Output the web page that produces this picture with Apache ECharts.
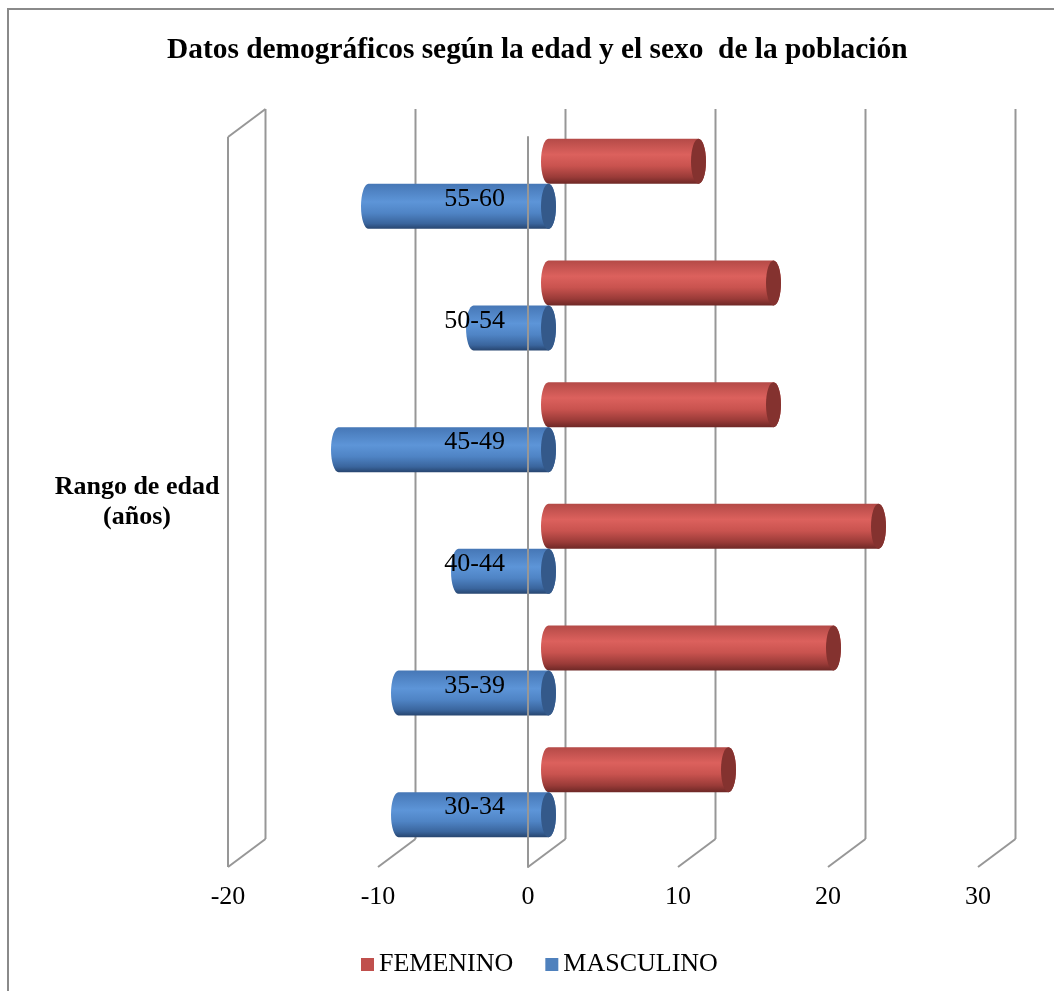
<!DOCTYPE html>
<html>
<head>
<meta charset="utf-8">
<script src="https://cdn.jsdelivr.net/npm/echarts@6/dist/echarts.min.js"></script>
<style>
  html, body { margin: 0; padding: 0; background: #fff; }
  #chart { width: 1054px; height: 991px; }
</style>
</head>
<body>
<div id="chart"></div>
<script>
// Age groups, bottom to top
const ageGroups = ['30-34', '35-39', '40-44', '45-49', '50-54', '55-60'];
// Counts per age group (men drawn to the left as negatives)
const femenino = [12, 19, 22, 15, 15, 10];
const masculino = [-10, -10, -6, -14, -5, -12];
// Value axis ticks
const valueTicks = [-20, -10, 0, 10, 20, 30];
const seriesNames = ['FEMENINO', 'MASCULINO'];
const titleText = 'Datos demográficos según la edad y el sexo  de la población';
const categoryAxisName = 'Rango de edad\n(años)';

const FONT = '"Liberation Serif", "Times New Roman", serif';
const GRID_COLOR = '#979797';
// depth offsets of the pseudo-3D box: back wall and bar plane
const WALL_DX = 37.5, WALL_DY = -28;
const BAR_DX = 20.5, BAR_DY = -14;
const CAP_RX = 7.5;
const CATEGORY_LABEL_GAP = 23;
const CATEGORY_LABEL_SHIFT = 1.5;

const PALETTE = {
  red: {
    base: '#C0504D',
    cap: '#84322f',
    body: [
      [0, '#b44a47'], [0.35, '#dc615d'], [0.6, '#c9534f'], [0.85, '#9a3b38'], [1, '#6e2826']
    ]
  },
  blue: {
    base: '#4F81BD',
    cap: '#34598a',
    body: [
      [0, '#4677b6'], [0.4, '#5d95d8'], [0.65, '#4f84c5'], [0.88, '#3a659d'], [1, '#27456f']
    ]
  }
};

function gradient(stops) {
  return new echarts.graphic.LinearGradient(0, 0, 0, 1,
    stops.map(s => ({ offset: s[0], color: s[1] })));
}

// Horizontal cylinder: rounded far end on the left, visible end cap on the right
function cylinderItem(upper, pal) {
  return function (params, api) {
    const value = api.value(0);
    const idx = api.value(1);
    const p0 = api.coord([0, idx]);
    const p1 = api.coord([value, idx]);
    const band = api.size([0, 1])[1];
    const h = band * 0.37;
    const mid = p0[1] + BAR_DY;
    const top = upper ? mid - h : mid;
    const bottom = top + h;
    const xa = Math.min(p0[0], p1[0]) + BAR_DX;
    const xb = Math.max(p0[0], p1[0]) + BAR_DX;
    const ry = h / 2;
    const cy = top + ry;
    const body = 'M' + xa + ' ' + top + ' L' + xb + ' ' + top +
      ' A' + CAP_RX + ' ' + ry + ' 0 0 1 ' + xb + ' ' + bottom +
      ' L' + xa + ' ' + bottom +
      ' A' + CAP_RX + ' ' + ry + ' 0 0 1 ' + xa + ' ' + top + ' Z';
    const cap = 'M' + (xb - CAP_RX) + ' ' + cy +
      ' A' + CAP_RX + ' ' + ry + ' 0 1 0 ' + (xb + CAP_RX) + ' ' + cy +
      ' A' + CAP_RX + ' ' + ry + ' 0 1 0 ' + (xb - CAP_RX) + ' ' + cy + ' Z';
    return {
      type: 'group',
      children: [
        { type: 'path', shape: { pathData: body }, style: { fill: gradient(pal.body) } },
        { type: 'path', shape: { pathData: cap }, style: { fill: pal.cap } }
      ]
    };
  };
}

// Back wall gridlines, floor edges and left side wall
function wallItem(params, api) {
  const cs = params.coordSys;
  const x = api.coord([api.value(0), 0])[0];
  const top = cs.y, bottom = cs.y + cs.height;
  const lineStyle = { stroke: GRID_COLOR, lineWidth: 2 };
  const children = [
    { type: 'line', shape: { x1: x + WALL_DX, y1: top + WALL_DY, x2: x + WALL_DX, y2: bottom + WALL_DY }, style: lineStyle },
    { type: 'line', shape: { x1: x, y1: bottom, x2: x + WALL_DX, y2: bottom + WALL_DY }, style: lineStyle }
  ];
  if (params.dataIndex === 0) {
    children.push(
      { type: 'line', shape: { x1: x, y1: top, x2: x, y2: bottom }, style: lineStyle },
      { type: 'line', shape: { x1: x, y1: top, x2: x + WALL_DX, y2: top + WALL_DY }, style: lineStyle }
    );
  }
  return { type: 'group', children: children };
}

// Category labels sitting against the zero line, in front of the bars
function categoryLabelItem(params, api) {
  const idx = api.value(1);
  const p = api.coord([api.value(0), idx]);
  return {
    type: 'text',
    x: p[0] - CATEGORY_LABEL_GAP,
    y: p[1] + CATEGORY_LABEL_SHIFT,
    style: {
      text: ageGroups[idx],
      fontFamily: FONT,
      fontSize: 26,
      fill: '#000',
      align: 'right',
      verticalAlign: 'middle'
    }
  };
}

const chart = echarts.init(document.getElementById('chart'), null, { renderer: 'canvas' });

chart.setOption({
  backgroundColor: '#ffffff',
  animation: false,
  title: {
    text: titleText,
    left: 167,
    top: 36,
    padding: 0,
    textStyle: { fontFamily: FONT, fontWeight: 'bold', fontSize: 29.4, color: '#000' }
  },
  legend: {
    data: seriesNames,
    left: 356,
    top: 946,
    icon: 'rect',
    itemWidth: 13,
    itemHeight: 13,
    itemGap: 32,
    textStyle: { fontFamily: FONT, fontSize: 26, color: '#000', lineHeight: 27 }
  },
  graphic: [
    {
      type: 'rect',
      shape: { x: 8, y: 9, width: 1200, height: 1200 },
      style: { fill: 'none', stroke: '#8a8a8a', lineWidth: 2 },
      silent: true
    },
    {
      type: 'text',
      x: 137,
      y: 502,
      style: {
        text: categoryAxisName,
        fontFamily: FONT,
        fontWeight: 'bold',
        fontSize: 26,
        lineHeight: 30,
        fill: '#000',
        align: 'center',
        verticalAlign: 'middle'
      }
    }
  ],
  grid: { left: 228, right: 76, top: 137, bottom: 124, containLabel: false },
  xAxis: {
    type: 'value',
    min: valueTicks[0],
    max: valueTicks[valueTicks.length - 1],
    interval: valueTicks[1] - valueTicks[0],
    axisLine: { show: false },
    axisTick: { show: false },
    splitLine: { show: false },
    axisLabel: { margin: 17, fontFamily: FONT, fontSize: 26, color: '#000' }
  },
  yAxis: {
    type: 'category',
    data: ageGroups,
    z: 5,
    axisLine: { show: true, onZero: true, lineStyle: { color: GRID_COLOR, width: 2 } },
    axisTick: { show: false },
    splitLine: { show: false },
    axisLabel: { show: false }
  },
  series: [
    {
      type: 'custom',
      z: 1,
      silent: true,
      renderItem: wallItem,
      encode: { x: 0, y: 1 },
      data: valueTicks.map(v => [v, 0])
    },
    {
      name: seriesNames[0],
      type: 'custom',
      z: 2,
      itemStyle: { color: PALETTE.red.base },
      renderItem: cylinderItem(true, PALETTE.red),
      encode: { x: 0, y: 1 },
      data: femenino.map((v, i) => [v, i])
    },
    {
      name: seriesNames[1],
      type: 'custom',
      z: 3,
      itemStyle: { color: PALETTE.blue.base },
      renderItem: cylinderItem(false, PALETTE.blue),
      encode: { x: 0, y: 1 },
      data: masculino.map((v, i) => [v, i])
    },
    {
      type: 'custom',
      z: 6,
      silent: true,
      renderItem: categoryLabelItem,
      encode: { x: 0, y: 1 },
      data: ageGroups.map((g, i) => [0, i])
    }
  ]
});
</script>
</body>
</html>
